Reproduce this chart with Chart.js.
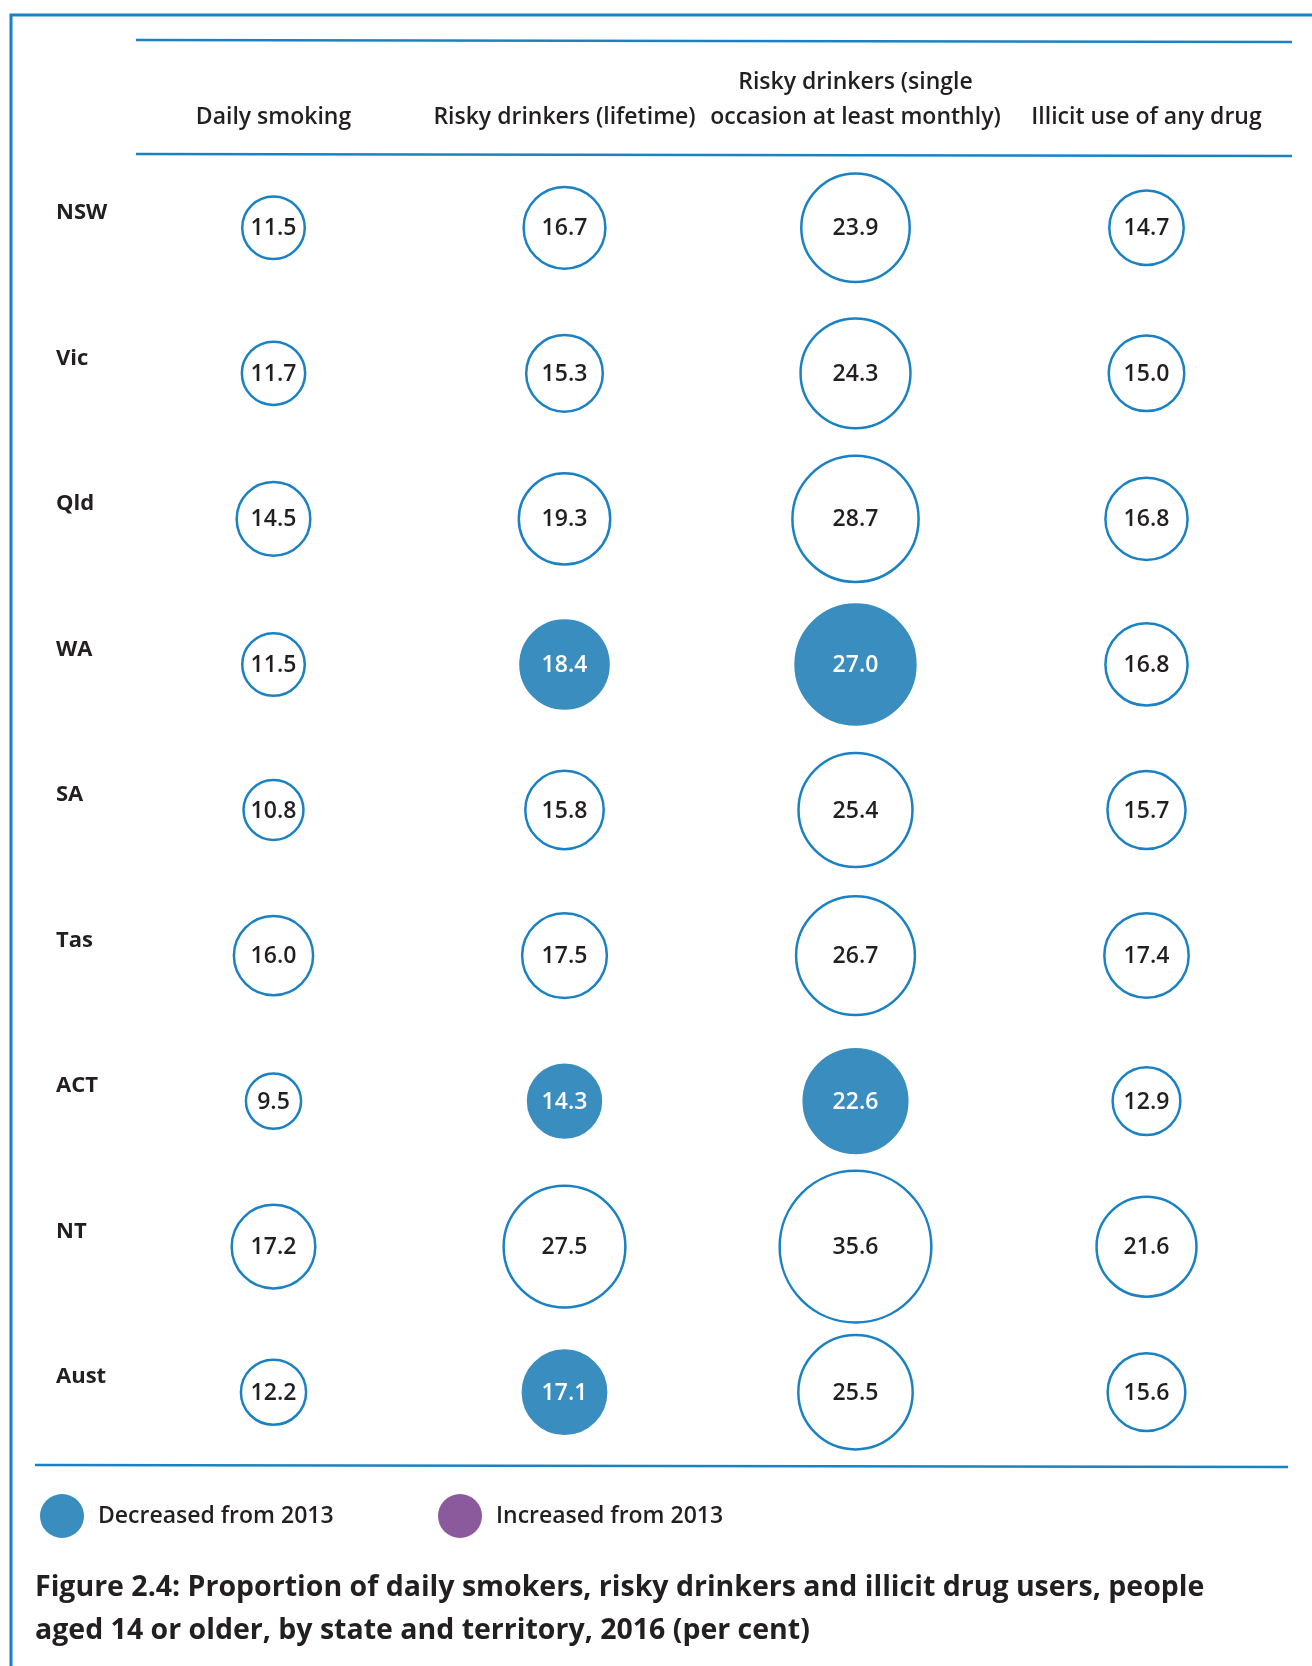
<!DOCTYPE html>
<html>
<head>
<meta charset="utf-8">
<script src="https://cdn.jsdelivr.net/npm/chart.js@4/dist/chart.umd.min.js"></script>
<style>
  html, body { margin: 0; padding: 0; background: #fff; }
  canvas { display: block; }
</style>
</head>
<body>
<canvas id="bubbles" width="1312" height="1666"></canvas>
<script>
// rows (states) and columns (measures)
const states = ['NSW', 'Vic', 'Qld', 'WA', 'SA', 'Tas', 'ACT', 'NT', 'Aust'];
const measures = [
  ['Daily smoking'],
  ['Risky drinkers (lifetime)'],
  ['Risky drinkers (single', 'occasion at least monthly)'],
  ['Illicit use of any drug']
];

// per cent, one array per column
const dailySmoking = [11.5, 11.7, 14.5, 11.5, 10.8, 16.0, 9.5, 17.2, 12.2];
const riskyLifetime = [16.7, 15.3, 19.3, 18.4, 15.8, 17.5, 14.3, 27.5, 17.1];
const riskySingle = [23.9, 24.3, 28.7, 27.0, 25.4, 26.7, 22.6, 35.6, 25.5];
const illicitDrug = [14.7, 15.0, 16.8, 16.8, 15.7, 17.4, 12.9, 21.6, 15.6];

// change from 2013: '' = no significant change, 'down' = decreased, 'up' = increased
const changeSmoking = ['', '', '', '', '', '', '', '', ''];
const changeLifetime = ['', '', '', 'down', '', '', 'down', '', 'down'];
const changeSingle = ['', '', '', 'down', '', '', 'down', '', ''];
const changeIllicit = ['', '', '', '', '', '', '', '', ''];

const legendItems = ['Decreased from 2013', 'Increased from 2013'];
const caption = [
  'Figure 2.4: Proportion of daily smokers, risky drinkers and illicit drug users, people',
  'aged 14 or older, by state and territory, 2016 (per cent)'
];

const BLUE_LINE = '#1a82c4';
const BLUE_FILL = '#3a8dbf';
const PURPLE_FILL = '#8a5a9c';
const TEXT = '#231f20';
const FONT = '"Open Sans", "Noto Sans", sans-serif';

const seriesValues = [dailySmoking, riskyLifetime, riskySingle, illicitDrug];
const seriesChange = [changeSmoking, changeLifetime, changeSingle, changeIllicit];
const colLabels = measures.map(m => m.join(' '));

const radiusFor = v => 10 + 1.85 * v;

const datasets = seriesValues.map((vals, c) => ({
  label: colLabels[c],
  data: vals.map((v, i) => ({ x: colLabels[c], y: states[i], r: radiusFor(v), v: v, change: seriesChange[c][i] })),
  backgroundColor: ctx => {
    const ch = ctx.raw ? ctx.raw.change : '';
    return ch === 'down' ? BLUE_FILL : ch === 'up' ? PURPLE_FILL : '#ffffff';
  },
  borderColor: ctx => {
    const ch = ctx.raw ? ctx.raw.change : '';
    return ch === 'down' ? BLUE_FILL : ch === 'up' ? PURPLE_FILL : BLUE_LINE;
  },
  borderWidth: 2.5,
  hoverBorderWidth: 2.5,
  clip: false
}));

const decorations = {
  id: 'decorations',
  beforeDraw(chart) {
    const { ctx, chartArea } = chart;
    ctx.save();
    // outer frame
    ctx.strokeStyle = BLUE_LINE;
    ctx.lineWidth = 3;
    ctx.beginPath();
    ctx.moveTo(1312, 15);
    ctx.lineTo(11, 15);
    ctx.lineTo(11, 1666);
    ctx.stroke();
    // header rules
    ctx.lineWidth = 2.5;
    ctx.beginPath();
    ctx.moveTo(chartArea.left + 8, 40);
    ctx.lineTo(chartArea.right, 42);
    ctx.moveTo(chartArea.left + 8, chartArea.top - 1);
    ctx.lineTo(chartArea.right, chartArea.top + 1);
    ctx.moveTo(35, chartArea.bottom);
    ctx.lineTo(chartArea.right - 4, chartArea.bottom + 2);
    ctx.stroke();
    ctx.restore();
  },
  afterDatasetsDraw(chart) {
    const { ctx } = chart;
    const xs = chart.scales.x;
    const ys = chart.scales.y;
    ctx.save();
    ctx.fillStyle = TEXT;

    // column headings
    ctx.font = '600 23px ' + FONT;
    ctx.textAlign = 'center';
    ctx.textBaseline = 'middle';
    measures.forEach((lines, c) => {
      const x = xs.getPixelForValue(c);
      const y0 = 117 - (lines.length - 1) * 35;
      lines.forEach((t, k) => ctx.fillText(t, x, y0 + k * 35));
    });

    // row labels
    ctx.font = '700 22px ' + FONT;
    ctx.textAlign = 'left';
    states.forEach((s, i) => {
      ctx.fillText(s, 56, ys.getPixelForValue(i) - 15);
    });

    // values in circles
    ctx.font = '600 23px ' + FONT;
    ctx.textAlign = 'center';
    chart.data.datasets.forEach((ds, d) => {
      const meta = chart.getDatasetMeta(d);
      meta.data.forEach((el, i) => {
        const raw = ds.data[i];
        ctx.fillStyle = raw.change ? '#ffffff' : TEXT;
        ctx.fillText(raw.v.toFixed(1), el.x, el.y + 1);
      });
    });

    // legend
    const legendColors = [BLUE_FILL, PURPLE_FILL];
    const legendX = [62, 460];
    ctx.font = '600 23px ' + FONT;
    ctx.textAlign = 'left';
    legendItems.forEach((t, k) => {
      ctx.fillStyle = legendColors[k];
      ctx.beginPath();
      ctx.arc(legendX[k], 1516, 22, 0, Math.PI * 2);
      ctx.fill();
      ctx.fillStyle = TEXT;
      ctx.fillText(t, legendX[k] + 36, 1516);
    });

    // caption
    ctx.font = '700 28.5px ' + FONT;
    caption.forEach((t, k) => ctx.fillText(t, 35, 1588 + k * 43));
    ctx.restore();
  }
};

new Chart(document.getElementById('bubbles'), {
  type: 'bubble',
  data: { datasets },
  options: {
    responsive: false,
    animation: false,
    events: [],
    layout: { autoPadding: false, padding: { left: 128, right: 20, top: 155, bottom: 201 } },
    scales: {
      x: { type: 'category', labels: colLabels, offset: true, display: false },
      y: { type: 'category', labels: states, offset: true, display: false }
    },
    plugins: {
      legend: { display: false },
      tooltip: { enabled: false }
    }
  },
  plugins: [decorations]
});
</script>
</body>
</html>
